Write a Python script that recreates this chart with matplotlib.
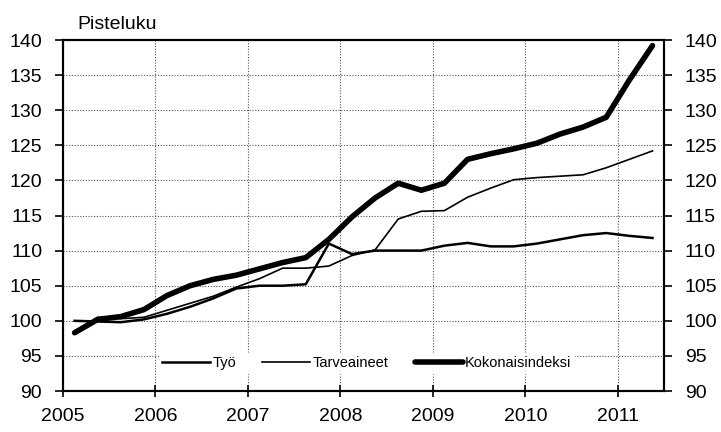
import numpy as np
import matplotlib.pyplot as plt

plt.rcParams['font.family'] = ['Liberation Sans', 'DejaVu Sans']

# quarterly observations (mid-quarter positions)
years = [2005.125, 2005.375, 2005.625, 2005.875,
         2006.125, 2006.375, 2006.625, 2006.875,
         2007.125, 2007.375, 2007.625, 2007.875,
         2008.125, 2008.375, 2008.625, 2008.875,
         2009.125, 2009.375, 2009.625, 2009.875,
         2010.125, 2010.375, 2010.625, 2010.875,
         2011.125, 2011.375]

tyo = [100.0, 99.9, 99.8, 100.2,
       101.0, 102.0, 103.2, 104.6,
       105.0, 105.0, 105.2, 111.0,
       109.5, 110.0, 110.0, 110.0,
       110.7, 111.1, 110.6, 110.6,
       111.0, 111.6, 112.2, 112.5,
       112.1, 111.8]

tarveaineet = [98.5, 100.5, 100.3, 100.5,
               101.5, 102.5, 103.5, 104.8,
               106.0, 107.5, 107.5, 107.8,
               109.3, 110.1, 114.5, 115.6,
               115.7, 117.6, 118.9, 120.1,
               120.4, 120.6, 120.8, 121.8,
               123.0, 124.2]

kokonais = [98.3, 100.2, 100.6, 101.6,
            103.6, 105.0, 105.9, 106.5,
            107.4, 108.3, 109.0, 111.6,
            114.8, 117.5, 119.6, 118.6,
            119.6, 123.0, 123.8, 124.5,
            125.3, 126.6, 127.6, 129.0,
            134.3, 139.2]

year_ticks = [2005, 2006, 2007, 2008, 2009, 2010, 2011]
y_ticks = list(range(90, 141, 5))

fig = plt.figure(figsize=(7.21, 4.32), dpi=100)
ax = fig.add_axes([0.0874, 0.0949, 0.8336, 0.8125])

ax.plot(years, tyo, color='black', lw=1.8, label='Työ')
ax.plot(years, tarveaineet, color='black', lw=1.2, label='Tarveaineet')
ax.plot(years, kokonais, color='black', lw=4.0, label='Kokonaisindeksi',
        solid_capstyle='round', solid_joinstyle='round')

ax.set_xlim(2005, 2011.5)
ax.set_ylim(90, 140)
ax.set_xticks(year_ticks)
ax.set_yticks(y_ticks)
ax.grid(True, color='#555555', linestyle=(0, (1, 1.5)), linewidth=0.8)
ax.set_axisbelow(True)

ax.tick_params(axis='both', labelsize=14, colors='black', width=1.2)
ax.tick_params(axis='x', direction='inout', length=9, pad=8)
ax.tick_params(axis='y', direction='out', length=6, pad=9)
for s in ax.spines.values():
    s.set_linewidth(1.5)
    s.set_color('black')

ax2 = ax.twinx()
ax2.set_ylim(90, 140)
ax2.set_yticks(y_ticks)
ax2.tick_params(axis='y', labelsize=14, direction='out', length=6, width=1.2, pad=9)
for s in ax2.spines.values():
    s.set_linewidth(1.5)

fig.text(0.108, 0.932, 'Pisteluku', fontsize=14, ha='left', va='baseline')

leg = ax.legend(loc='center', bbox_to_anchor=(0.505, 0.08), ncol=3,
                frameon=True, fontsize=10.5, handlelength=3.3,
                columnspacing=1.8, handletextpad=0.15, borderpad=0.2)
leg.get_frame().set_edgecolor('white')
leg.get_frame().set_facecolor('white')
leg.get_frame().set_alpha(1.0)
for t in leg.get_texts():
    t.set_fontstretch('expanded')

fig.savefig('out.png', dpi=100)
